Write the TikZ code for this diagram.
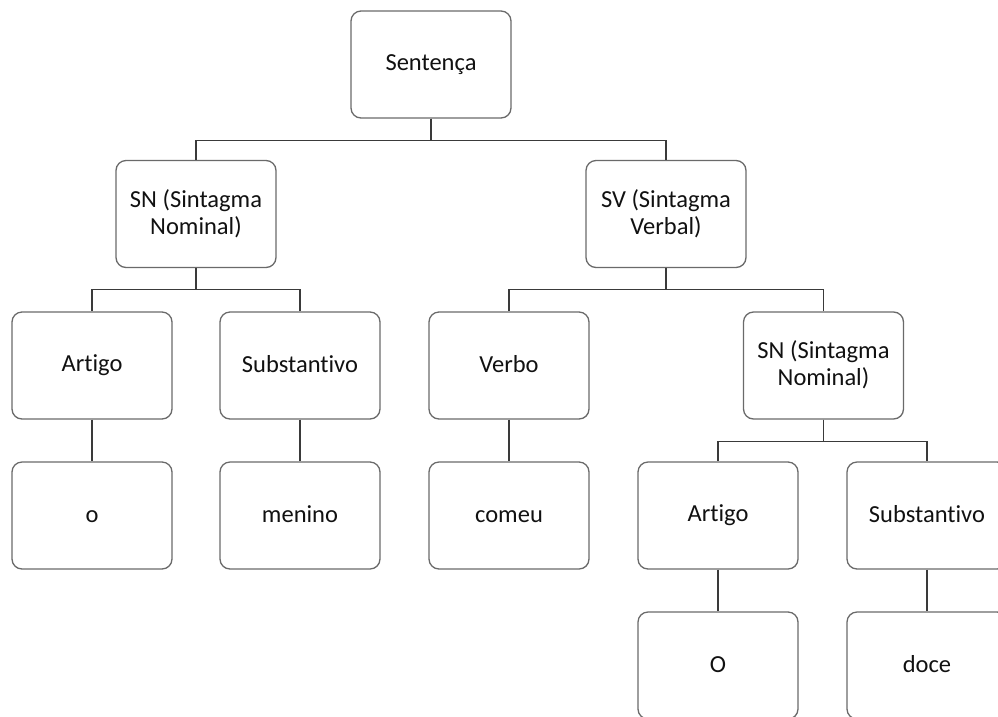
\documentclass[tikz,border=0pt]{standalone}
\usepackage{fontspec}
\setmainfont{Carlito}[Ligatures=NoCommon]
\definecolor{boxline}{HTML}{6A6A6A}
\definecolor{linkline}{HTML}{3A3A3A}
\definecolor{txt}{HTML}{111111}
% strut giving every text line the same height and depth
\newcommand\lnstrut{\rule[-4pt]{0pt}{21pt}}
\begin{document}
\begin{tikzpicture}[x=1pt,y=-1pt,
  box/.style={draw=boxline, line width=1.3pt, rounded corners=10pt,
    minimum width=160pt, minimum height=107pt, inner sep=0pt,
    align=center, text=txt, font=\fontsize{24.5}{27}\selectfont},
  link/.style={draw=linkline, line width=1.3pt}]
\useasboundingbox (0,0) rectangle (998,716);
\fill[white] (0,0) rectangle (998,716);
\clip (0,0) rectangle (998,716);

% top level
\node[box] (s) at (431,64.5) {\lnstrut Sentença};
% phrases
\node[box] (sn) at (196,214) {\lnstrut SN (Sintagma\\\lnstrut Nominal)};
\node[box] (sv) at (666,214) {\lnstrut SV (Sintagma\\\lnstrut Verbal)};
% word classes
\node[box] (art) at (92,365.5) {\lnstrut Artigo};
\node[box] (sub) at (300,365.5) {\lnstrut Substantivo};
\node[box] (verb) at (509,365.5) {\lnstrut Verbo};
\node[box] (snb) at (823.5,365.5) {\lnstrut SN (Sintagma\\\lnstrut Nominal)};
% words and the second noun phrase
\node[box] (o) at (92,515.5) {\lnstrut o};
\node[box] (men) at (300,515.5) {\lnstrut menino};
\node[box] (com) at (509,515.5) {\lnstrut comeu};
\node[box] (artb) at (718,515.5) {\lnstrut Artigo};
\node[box] (subb) at (927,515.5) {\lnstrut Substantivo};
\node[box] (ob) at (718,665.5) {\lnstrut O};
\node[box] (doce) at (927,665.5) {\lnstrut doce};

% branches
\draw[link] (s.south) -- ++(0,22) -| (sn.north);
\draw[link] (s.south) -- ++(0,22) -| (sv.north);
\draw[link] (sn.south) -- ++(0,21) -| (art.north);
\draw[link] (sn.south) -- ++(0,21) -| (sub.north);
\draw[link] (sv.south) -- ++(0,21) -| (verb.north);
\draw[link] (sv.south) -- ++(0,21) -| (snb.north);
\draw[link] (art.south) -- (o.north);
\draw[link] (sub.south) -- (men.north);
\draw[link] (verb.south) -- (com.north);
\draw[link] (snb.south) -- ++(0,22) -| (artb.north);
\draw[link] (snb.south) -- ++(0,22) -| (subb.north);
\draw[link] (artb.south) -- (ob.north);
\draw[link] (subb.south) -- (doce.north);
\end{tikzpicture}
\end{document}
